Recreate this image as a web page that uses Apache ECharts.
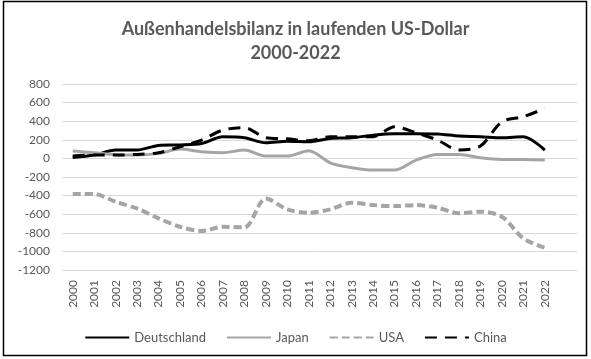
<!DOCTYPE html>
<html><head><meta charset="utf-8">
<script src="https://cdn.jsdelivr.net/npm/echarts@6/dist/echarts.min.js"></script>
<style>html,body{margin:0;padding:0;background:#fff}#c{width:591px;height:359px}</style>
</head><body><div id="c"></div>
<script>
const years = ['2000','2001','2002','2003','2004','2005','2006','2007','2008','2009','2010','2011','2012','2013','2014','2015','2016','2017','2018','2019','2020','2021','2022'];
const deutschland = [10,36,90,90,140,145,160,232,222,168,185,180,215,222,250,265,265,262,240,233,222,233,90];
const japan = [79,61,40,36,54,100,72,61,90,25,25,82,-47,-100,-125,-125,-18,43,43,7,-11,-11,-18];
const usa = [-384,-384,-466,-538,-645,-735,-781,-735,-742,-430,-548,-584,-548,-477,-502,-513,-502,-530,-591,-573,-627,-860,-960];
const china = [25,36,36,43,61,125,197,305,330,222,210,190,233,233,233,340,276,197,90,133,394,448,538];
const yTicks = {min:-1200, max:800, interval:200};
const titleText = 'Außenhandelsbilanz in laufenden US-Dollar\n2000-2022';

const chart = echarts.init(document.getElementById('c'), null, {renderer:'canvas'});
const FONT = 'Lato';
const mk = (name, data, color, width, type) => ({
  name, type:'line', data, symbol:'none', smooth:0.3,
  lineStyle:{color, width, type, cap:'butt'}, itemStyle:{color}
});
chart.setOption({
  animation:false,
  backgroundColor:'#fff',
  title:{text:titleText, left:'center', top:12,
    textStyle:{fontFamily:FONT, fontSize:18, fontWeight:'bold', color:'#595959', lineHeight:24}},
  grid:{left:62, right:14, top:84, bottom:89},
  legend:{top:326, left:'center', itemWidth:44, itemHeight:10, itemGap:20,
    itemStyle:{opacity:0},
    textStyle:{fontFamily:FONT, fontSize:13, color:'#595959'},
    data:['Deutschland','Japan','USA','China']},
  xAxis:{type:'category', data:years.concat(['']), boundaryGap:true,
    axisLine:{show:false}, axisTick:{show:false},
    axisLabel:{rotate:90, interval:0, fontFamily:FONT, fontSize:12, color:'#595959', margin:10}},
  yAxis:{type:'value', min:yTicks.min, max:yTicks.max, interval:yTicks.interval,
    axisLine:{show:false}, axisTick:{show:false},
    splitLine:{lineStyle:{color:'#D9D9D9', width:1}},
    axisLabel:{fontFamily:FONT, fontSize:12, color:'#595959', margin:12, formatter:v => String(v)}},
  series:[
    mk('Deutschland', deutschland, '#000000', 3, 'solid'),
    mk('Japan', japan, '#A5A5A5', 3, 'solid'),
    mk('USA', usa, '#A5A5A5', 4, [8,4]),
    mk('China', china, '#000000', 3, [12,8])
  ],
  graphic:[{type:'rect', shape:{x:3.5, y:1.5, width:583, height:354},
    style:{fill:'none', stroke:'#000', lineWidth:1.5}, silent:true, z:100}]
});
</script></body></html>
